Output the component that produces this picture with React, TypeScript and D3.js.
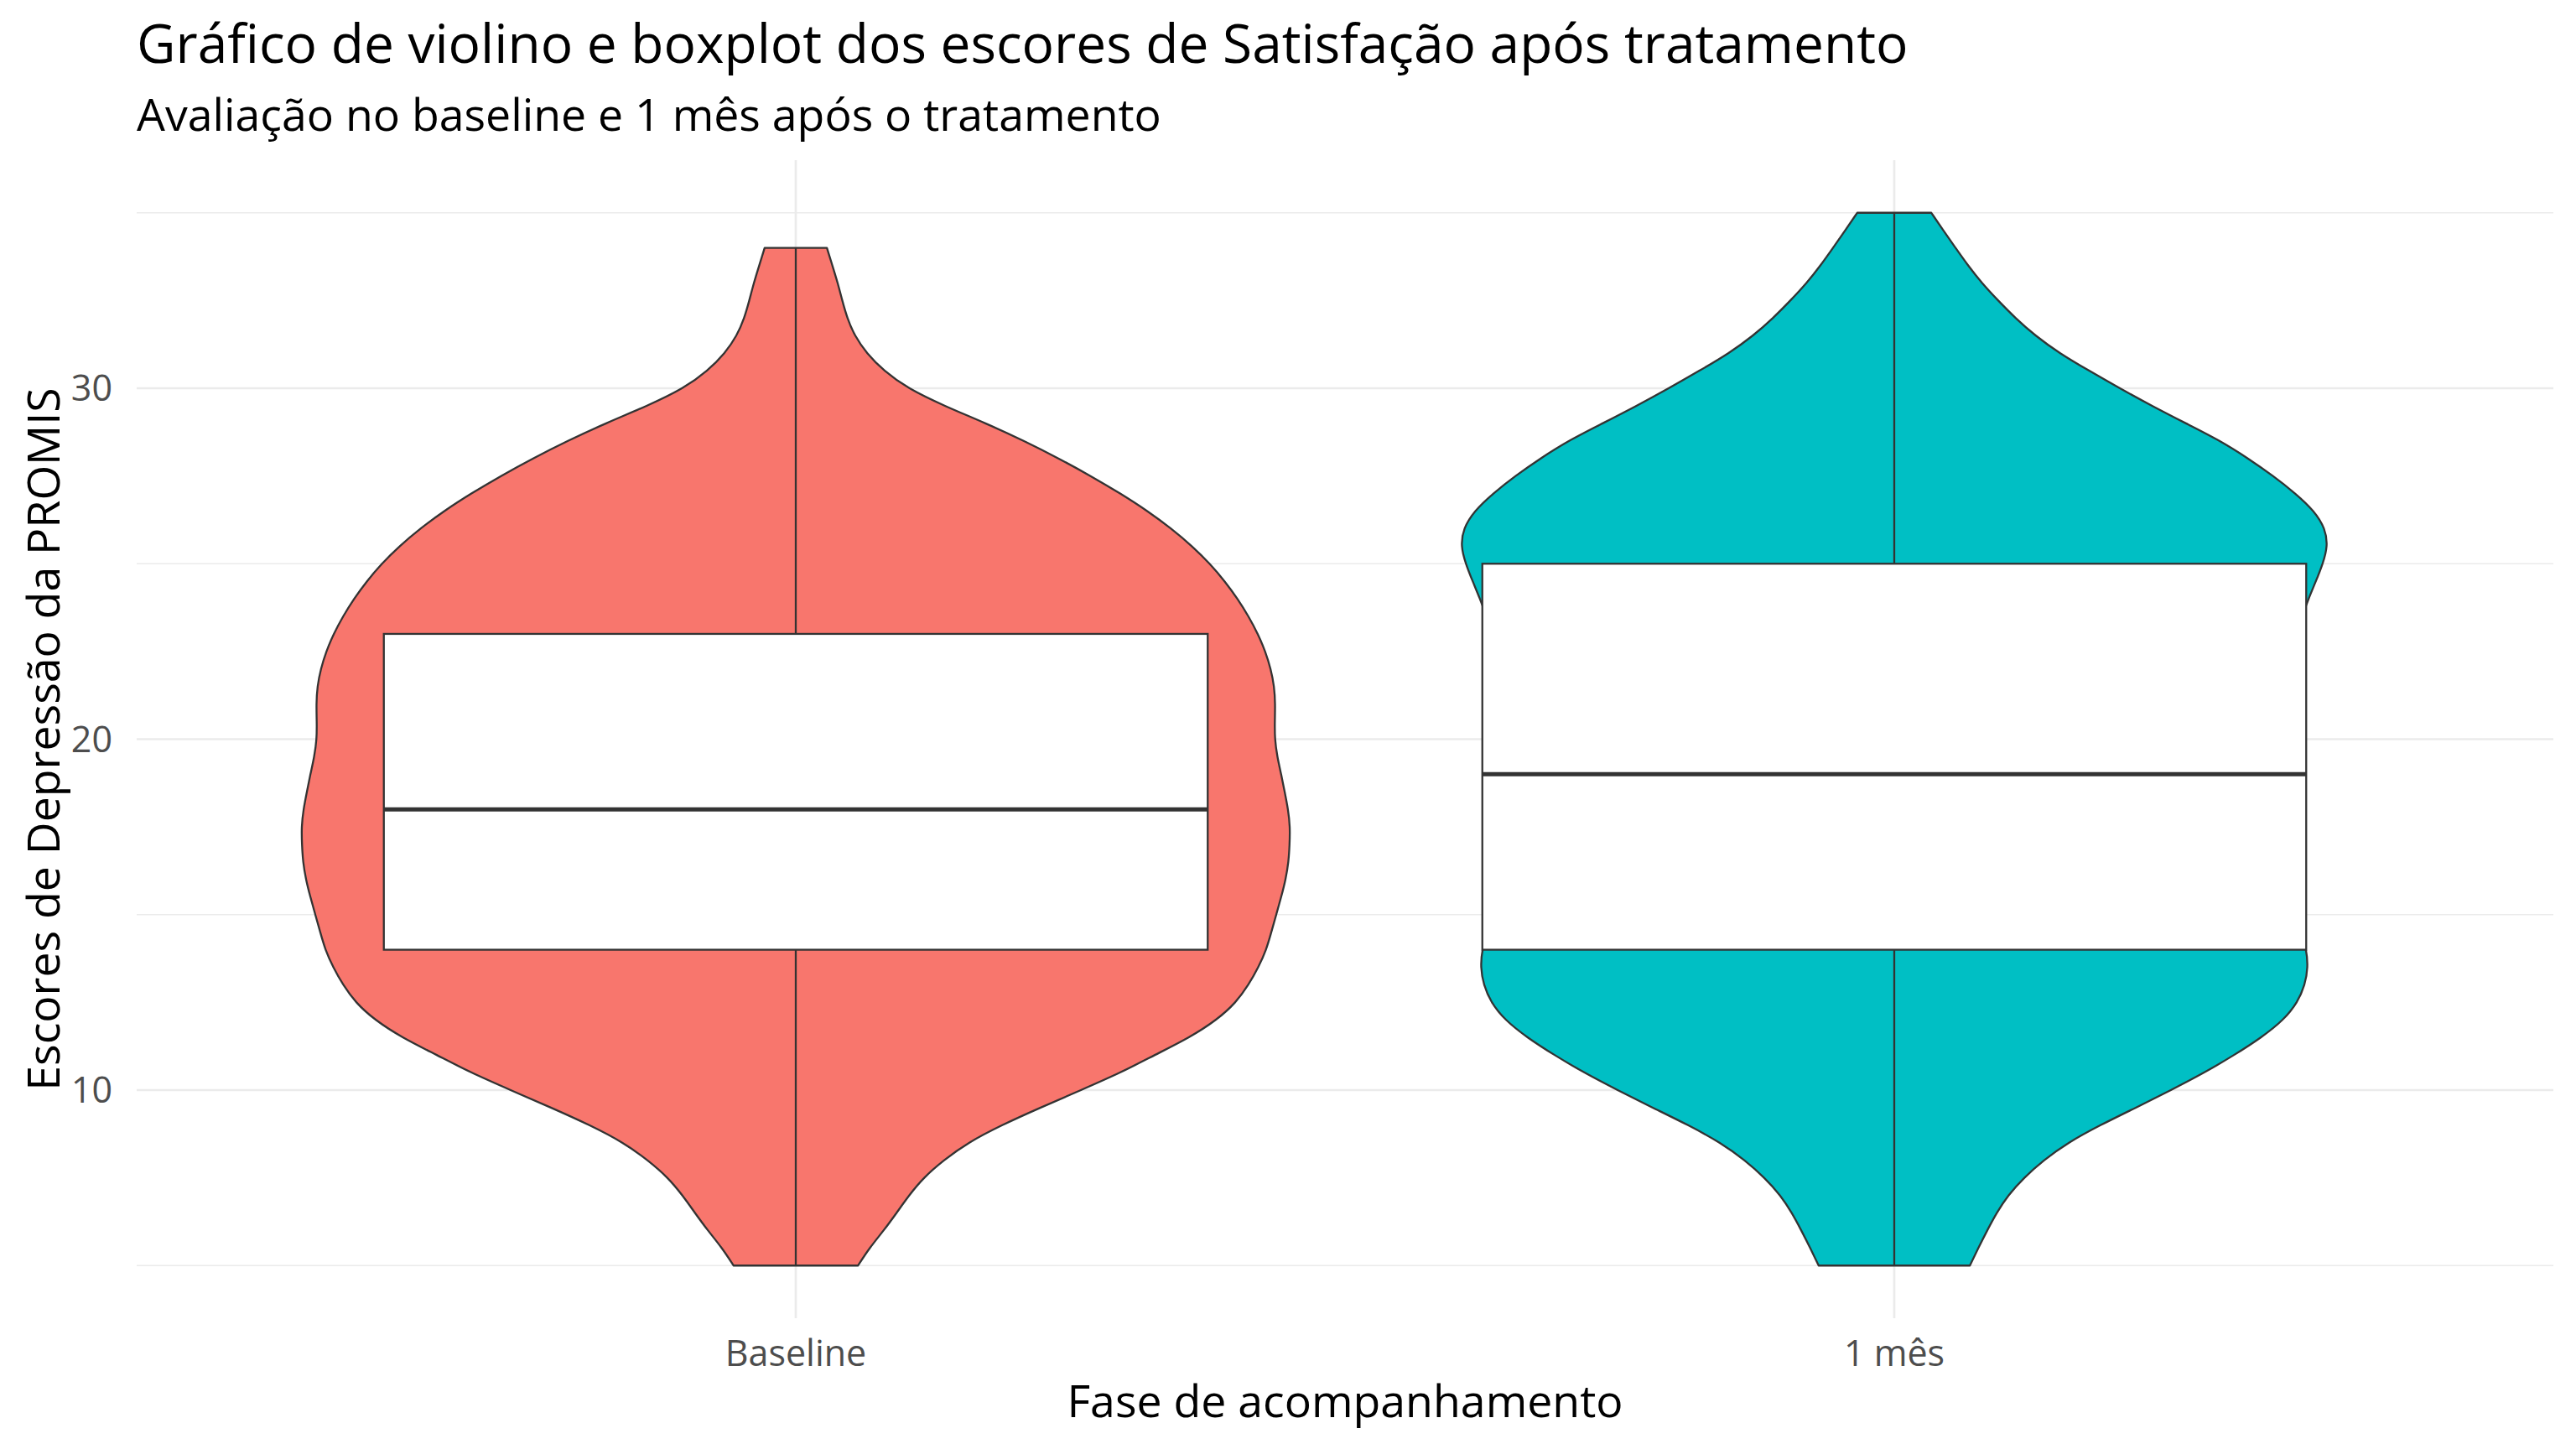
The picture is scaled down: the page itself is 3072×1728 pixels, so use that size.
import { useEffect, useRef } from 'react'
import * as d3 from 'd3'

const phases = ['Baseline', '1 mês']
const phaseColors = ['#F8766D', '#00BFC4']

// violin outlines: score grid and relative density
const baselineScores = [
  5, 5.5, 6, 6.5, 7, 7.5, 8, 8.5, 9, 9.5, 10, 10.5, 11, 11.5, 12, 12.5, 13, 13.5, 14, 14.5,
  15, 15.5, 16, 16.5, 17, 17.5, 18, 18.5, 19, 19.5, 20, 20.5, 21, 21.5, 22, 22.5, 23, 23.5, 24, 24.5,
  25, 25.5, 26, 26.5, 27, 27.5, 28, 28.5, 29, 29.5, 30, 30.5, 31, 31.5, 32, 32.5, 33, 33.5, 34,
]
const baselineDensity = [
  0.126, 0.149, 0.178, 0.204, 0.229, 0.258, 0.299, 0.348, 0.416, 0.495, 0.577, 0.658, 0.726, 0.797, 0.852, 0.891, 0.916, 0.936, 0.952, 0.962,
  0.972, 0.982, 0.991, 0.997, 0.999, 1.0, 0.996, 0.989, 0.982, 0.974, 0.969, 0.969, 0.97, 0.968, 0.961, 0.95, 0.935, 0.916, 0.894, 0.868,
  0.838, 0.802, 0.76, 0.712, 0.657, 0.597, 0.532, 0.462, 0.385, 0.3, 0.226, 0.178, 0.143, 0.119, 0.104, 0.094, 0.085, 0.074, 0.063,
]
const mesScores = [
  5, 5.5, 6, 6.5, 7, 7.5, 8, 8.5, 9, 9.5, 10, 10.5, 11, 11.5, 12, 12.5, 13, 13.5, 14, 14.5,
  15, 15.5, 16, 16.5, 17, 17.5, 18, 18.5, 19, 19.5, 20, 20.5, 21, 21.5, 22, 22.5, 23, 23.5, 24, 24.5,
  25, 25.5, 26, 26.5, 27, 27.5, 28, 28.5, 29, 29.5, 30, 30.5, 31, 31.5, 32, 32.5, 33, 33.5, 34, 34.5, 35,
]
const mesDensity = [
  0.153, 0.17, 0.188, 0.207, 0.23, 0.262, 0.302, 0.351, 0.416, 0.489, 0.56, 0.628, 0.688, 0.743, 0.788, 0.816, 0.831, 0.837, 0.834, 0.823,
  0.803, 0.781, 0.761, 0.743, 0.729, 0.721, 0.718, 0.718, 0.721, 0.728, 0.736, 0.746, 0.758, 0.772, 0.785, 0.799, 0.813, 0.825, 0.838, 0.853,
  0.867, 0.877, 0.872, 0.85, 0.812, 0.767, 0.716, 0.66, 0.59, 0.521, 0.456, 0.394, 0.334, 0.285, 0.245, 0.21, 0.177, 0.149, 0.124, 0.099, 0.075,
]

// boxplot stats per phase
const whiskerLow = [5, 5]
const quartile1 = [14, 14]
const medians = [18, 19]
const quartile3 = [23, 25]
const whiskerHigh = [34, 35]

const majorTicks = [10, 20, 30]
const minorTicks = [5, 15, 25, 35]

const title = 'Gráfico de violino e boxplot dos escores de Satisfação após tratamento'
const subtitle = 'Avaliação no baseline e 1 mês após o tratamento'
const xTitle = 'Fase de acompanhamento'
const yTitle = 'Escores de Depressão da PROMIS'

export default function App() {
  const svgRef = useRef<SVGSVGElement>(null)

  useEffect(() => {
    if (!svgRef.current) return
    document.body.style.margin = '0'

    const svg = d3.select(svgRef.current)
    svg.selectAll('*').remove()

    const width = 3072
    const height = 1728
    const margin = { top: 191, right: 27, bottom: 156, left: 163 }
    const font = '"Open Sans", "Noto Sans", sans-serif'

    const lo = d3.min(whiskerLow) ?? 0
    const hi = d3.max(whiskerHigh) ?? 1
    const pad = (hi - lo) * 0.05

    const x = d3.scalePoint<string>().domain(phases).range([margin.left, width - margin.right]).padding(0.6)
    const y = d3.scaleLinear().domain([lo - pad, hi + pad]).range([height - margin.bottom, margin.top])

    const violins = [
      { scores: baselineScores, density: baselineDensity },
      { scores: mesScores, density: mesDensity },
    ]
    const maxDensity = d3.max(violins, (v) => d3.max(v.density)) ?? 1
    const halfWidth = d3.scaleLinear().domain([0, maxDensity]).range([0, x.step() * 0.45])
    const boxHalf = x.step() * 0.375

    svg.append('rect').attr('width', width).attr('height', height).attr('fill', '#ffffff')

    // grid
    const grid = svg.append('g')
    grid.selectAll('.minor')
      .data(minorTicks)
      .join('line')
      .attr('x1', margin.left).attr('x2', width - margin.right)
      .attr('y1', (d) => y(d)).attr('y2', (d) => y(d))
      .attr('stroke', '#EBEBEB').attr('stroke-width', 1.4)
    grid.selectAll('.major')
      .data(majorTicks)
      .join('line')
      .attr('x1', margin.left).attr('x2', width - margin.right)
      .attr('y1', (d) => y(d)).attr('y2', (d) => y(d))
      .attr('stroke', '#EBEBEB').attr('stroke-width', 2.7)
    grid.selectAll('.vert')
      .data(phases)
      .join('line')
      .attr('x1', (d) => x(d) ?? 0).attr('x2', (d) => x(d) ?? 0)
      .attr('y1', margin.top).attr('y2', height - margin.bottom)
      .attr('stroke', '#EBEBEB').attr('stroke-width', 2.7)

    // violins
    violins.forEach((v, i) => {
      const cx = x(phases[i]) ?? 0
      const pts = v.scores.map((s, j) => ({ s, d: v.density[j] }))
      const area = d3.area<{ s: number; d: number }>()
        .y((p) => y(p.s))
        .x0((p) => cx - halfWidth(p.d))
        .x1((p) => cx + halfWidth(p.d))
        .curve(d3.curveBasis)
      svg.append('path')
        .attr('d', area(pts) ?? '')
        .attr('fill', phaseColors[i])
        .attr('stroke', '#333333')
        .attr('stroke-width', 2.3)
        .attr('stroke-linejoin', 'round')
    })

    // boxplots
    phases.forEach((p, i) => {
      const cx = x(p) ?? 0
      const g = svg.append('g')
      g.append('line')
        .attr('x1', cx).attr('x2', cx)
        .attr('y1', y(quartile3[i])).attr('y2', y(whiskerHigh[i]))
        .attr('stroke', '#333333').attr('stroke-width', 2.3)
      g.append('line')
        .attr('x1', cx).attr('x2', cx)
        .attr('y1', y(quartile1[i])).attr('y2', y(whiskerLow[i]))
        .attr('stroke', '#333333').attr('stroke-width', 2.3)
      g.append('rect')
        .attr('x', cx - boxHalf)
        .attr('y', y(quartile3[i]))
        .attr('width', boxHalf * 2)
        .attr('height', y(quartile1[i]) - y(quartile3[i]))
        .attr('fill', '#ffffff')
        .attr('stroke', '#333333').attr('stroke-width', 2.3)
      g.append('line')
        .attr('x1', cx - boxHalf).attr('x2', cx + boxHalf)
        .attr('y1', y(medians[i])).attr('y2', y(medians[i]))
        .attr('stroke', '#333333').attr('stroke-width', 5)
    })

    // axis labels
    svg.append('g')
      .selectAll('text')
      .data(majorTicks)
      .join('text')
      .attr('x', margin.left - 29)
      .attr('y', (d) => y(d))
      .attr('dy', '0.35em')
      .attr('text-anchor', 'end')
      .attr('font-family', font)
      .attr('font-size', 43)
      .attr('fill', '#4D4D4D')
      .text((d) => d)

    svg.append('g')
      .selectAll('text')
      .data(phases)
      .join('text')
      .attr('x', (d) => x(d) ?? 0)
      .attr('y', height - margin.bottom + 57)
      .attr('text-anchor', 'middle')
      .attr('font-family', font)
      .attr('font-size', 43)
      .attr('fill', '#4D4D4D')
      .text((d) => d)

    svg.append('text')
      .attr('x', (margin.left + width - margin.right) / 2)
      .attr('y', height - 38)
      .attr('text-anchor', 'middle')
      .attr('font-family', font)
      .attr('font-size', 53.6)
      .attr('fill', '#000000')
      .text(xTitle)

    svg.append('text')
      .attr('transform', `translate(71,${(margin.top + height - margin.bottom) / 2}) rotate(-90)`)
      .attr('text-anchor', 'middle')
      .attr('font-family', font)
      .attr('font-size', 53.6)
      .attr('fill', '#000000')
      .text(yTitle)

    // titles
    svg.append('text')
      .attr('x', margin.left)
      .attr('y', 75)
      .attr('font-family', font)
      .attr('font-size', 64)
      .attr('fill', '#000000')
      .text(title)

    svg.append('text')
      .attr('x', margin.left)
      .attr('y', 156)
      .attr('font-family', font)
      .attr('font-size', 53.6)
      .attr('fill', '#000000')
      .text(subtitle)
  }, [])

  return <svg ref={svgRef} width={3072} height={1728} style={{ display: 'block' }} />
}
